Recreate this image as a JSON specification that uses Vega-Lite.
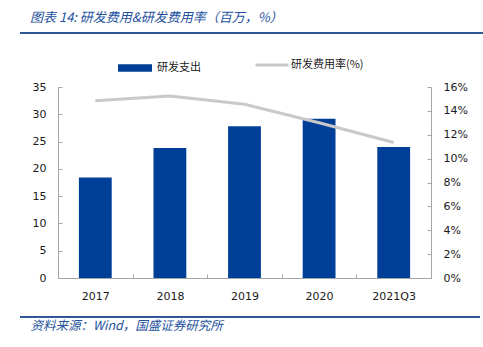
{
  "$schema": "https://vega.github.io/schema/vega-lite/v6.json",
  "width": 373,
  "height": 191,
  "autosize": {"type": "none"},
  "padding": {"left": 58, "top": 87, "right": 52, "bottom": 69},
  "background": "white",
  "title": {
    "text": "图表 14: 研发费用&研发费用率（百万，%）",
    "anchor": "start",
    "frame": "group",
    "dx": -28,
    "offset": 7,
    "font": "Noto Sans CJK SC",
    "fontStyle": "italic",
    "fontWeight": "normal",
    "fontSize": 13,
    "color": "#24519C"
  },
  "data": {
    "values": [
      {"year": "2017", "rd": 18.4, "ratio": 14.85},
      {"year": "2018", "rd": 23.8, "ratio": 15.25},
      {"year": "2019", "rd": 27.8, "ratio": 14.55},
      {"year": "2020", "rd": 29.2, "ratio": 13.0},
      {"year": "2021Q3", "rd": 24.0, "ratio": 11.35}
    ]
  },
  "layer": [
    {
      "mark": {"type": "bar", "width": {"band": 0.44}},
      "encoding": {
        "x": {
          "field": "year",
          "type": "nominal",
          "sort": null,
          "scale": {"paddingInner": 0, "paddingOuter": 0},
          "axis": {
            "labelAngle": 0,
            "tickBand": "extent",
            "tickSize": -4,
            "labelPadding": 16,
            "title": "资料来源：Wind，国盛证券研究所",
            "titleAnchor": "start",
            "titleAlign": "left",
            "titleX": -28,
            "titleY": 51,
            "titleBaseline": "alphabetic",
            "titleFont": "Noto Sans CJK SC",
            "titleFontStyle": "italic",
            "titleFontWeight": "normal",
            "titleFontSize": 12.5,
            "titleColor": "#24519C"
          }
        },
        "y": {
          "field": "rd",
          "type": "quantitative",
          "scale": {"domain": [0, 35], "nice": false},
          "axis": {"values": [0, 5, 10, 15, 20, 25, 30, 35], "tickSize": -4, "labelPadding": 16, "title": null, "grid": false}
        },
        "color": {
          "datum": "研发支出",
          "scale": {"range": ["#003F98"]},
          "legend": {
            "orient": "none",
            "legendX": 56,
            "legendY": -40,
            "title": null,
            "symbolType": "stroke",
            "symbolSize": 1156,
            "symbolStrokeWidth": 7.5,
            "symbolStrokeColor": "#003F98",
            "encode": {"symbols": {"update": {"stroke": {"value": "#003F98"}, "strokeWidth": {"value": 7.5}, "strokeCap": {"value": "butt"}}}}
          }
        }
      }
    },
    {
      "mark": {"type": "line", "strokeWidth": 3},
      "encoding": {
        "x": {"field": "year", "type": "nominal", "sort": null, "axis": null},
        "y": {
          "field": "ratio",
          "type": "quantitative",
          "scale": {"domain": [0, 16], "nice": false},
          "axis": {"orient": "right", "values": [0, 2, 4, 6, 8, 10, 12, 14, 16], "labelExpr": "datum.value + '%'", "tickSize": -4, "labelPadding": 16, "title": null, "grid": false}
        },
        "stroke": {
          "datum": "研发费用率(%)",
          "scale": {"range": ["#C9C9C9"]},
          "legend": {
            "orient": "none",
            "legendX": 196,
            "legendY": -40,
            "title": null,
            "symbolType": "stroke",
            "symbolSize": 1089,
            "symbolStrokeWidth": 3
          }
        }
      }
    },
    {
      "mark": {"type": "rule", "color": "#2E5597", "strokeWidth": 1.4},
      "encoding": {
        "x": {"datum": 0, "type": "quantitative", "scale": {"domain": [0, 1], "range": [-38, 425]}, "axis": null},
        "x2": {"datum": 1},
        "y": {"datum": 44.9, "type": "quantitative", "scale": {"domain": [0, 35], "nice": false}, "axis": null}
      }
    },
    {
      "mark": {"type": "rule", "color": "#2E5597", "strokeWidth": 1.4},
      "encoding": {
        "x": {"datum": 0, "type": "quantitative", "scale": {"domain": [0, 1], "range": [-38, 422]}, "axis": null},
        "x2": {"datum": 1},
        "y": {"datum": -7.09, "type": "quantitative", "scale": {"domain": [0, 35], "nice": false}, "axis": null}
      }
    }
  ],
  "resolve": {"scale": {"y": "independent", "x": "independent", "color": "independent", "stroke": "independent"}, "axis": {"x": "independent", "y": "independent"}},
  "config": {
    "view": {"stroke": null},
    "axis": {
      "domainColor": "#A6A6A6",
      "tickColor": "#A6A6A6",
      "labelFont": "DejaVu Sans",
      "labelFontSize": 11,
      "labelColor": "#1A1A1A"
    },
    "legend": {
      "padding": 0,
      "labelFont": "Noto Sans CJK SC",
      "labelFontSize": 11,
      "labelColor": "#1A1A1A",
      "labelOffset": 1
    }
  }
}
